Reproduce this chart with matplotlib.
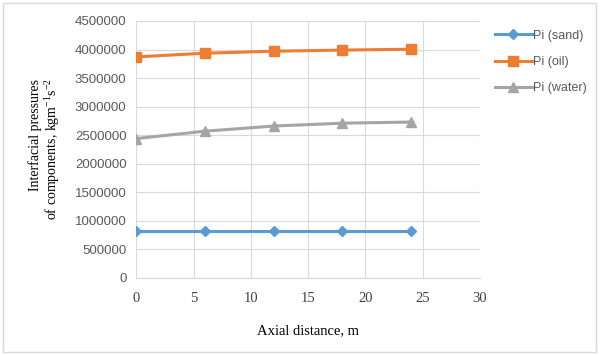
import matplotlib.pyplot as plt
from matplotlib.patches import Rectangle

plt.rcParams['mathtext.fontset'] = 'custom'
plt.rcParams['mathtext.rm'] = 'Liberation Serif'
plt.rcParams['mathtext.it'] = 'Liberation Serif:italic'

# data
distance = [0, 6, 12, 18, 24]
pi_sand = [820000, 820000, 820000, 820000, 820000]
pi_oil = [3870000, 3935000, 3970000, 3990000, 4005000]
pi_water = [2440000, 2570000, 2660000, 2710000, 2730000]

fig = plt.figure(figsize=(6, 3.55), dpi=100)
ax = fig.add_axes([0.227, 0.217, 0.573, 0.724])

# outer chart border
fig.patches.append(Rectangle((0.005, 0.008), 0.988, 0.984, transform=fig.transFigure,
                             fill=False, edgecolor='#d9d9d9', linewidth=1))

ax.plot(distance, pi_sand, color='#5b9bd5', marker='D', markersize=5, linewidth=2.2, label='Pi (sand)')
ax.plot(distance, pi_oil, color='#ed7d31', marker='s', markersize=7, linewidth=2.2, label='Pi (oil)')
ax.plot(distance, pi_water, color='#a5a5a5', marker='^', markersize=7, linewidth=2.2, label='Pi (water)')

ax.set_xlim(0, 30)
ax.set_ylim(0, 4500000)
ax.set_xticks(range(0, 31, 5))
ax.set_yticks(range(0, 4500001, 500000))
ax.set_yticklabels([str(v) for v in range(0, 4500001, 500000)], family='Liberation Sans',
                   fontsize=9.5, color='#595959')
ax.set_xticklabels([str(v) for v in range(0, 31, 5)], family='Liberation Serif',
                   fontsize=10.5, color='#404040')
ax.tick_params(axis='y', length=0, pad=7)
ax.tick_params(axis='x', length=0, pad=10)
ax.grid(True, color='#d9d9d9', linewidth=0.8)
ax.set_axisbelow(True)
for s in ax.spines.values():
    s.set_visible(False)
ax.spines['bottom'].set_visible(True)
ax.spines['bottom'].set_color('#d9d9d9')

ax.set_xlabel('Axial distance, m', family='Liberation Serif', fontsize=10.5, labelpad=14)
ax.set_ylabel('Interfacial pressures\nof components, kgm$^{\\mathregular{-1}}$s$^{\\mathregular{-2}}$',
              family='Liberation Serif', fontsize=10, labelpad=9, linespacing=1.1,
              multialignment='right')

leg = ax.legend(loc='upper left', bbox_to_anchor=(1.01, 1.01), frameon=False,
                prop={'family': 'Liberation Sans', 'size': 9}, handlelength=3,
                labelspacing=1.15, handletextpad=0.1)
for t in leg.get_texts():
    t.set_color('#595959')

fig.savefig('out.png', dpi=100)
